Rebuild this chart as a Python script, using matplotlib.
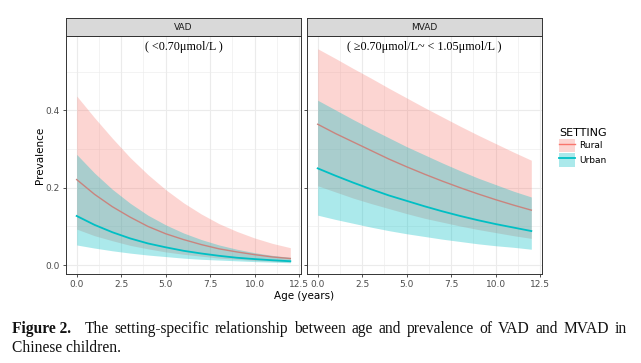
import numpy as np
import matplotlib.pyplot as plt
from matplotlib.patches import Patch
from matplotlib.lines import Line2D

OUTPUT_PATH = "out.png"
W, H = 641, 363

# ages and fitted prevalence
age = [0, 1, 2, 3, 4, 5, 6, 7, 8, 9, 10, 11, 12]

# VAD panel
vad_rural = [0.221, 0.183, 0.151, 0.124, 0.100, 0.081, 0.066, 0.053, 0.042, 0.034, 0.027, 0.021, 0.017]
vad_rural_hi = [0.437, 0.381, 0.328, 0.278, 0.234, 0.195, 0.161, 0.132, 0.107, 0.087, 0.070, 0.056, 0.045]
vad_rural_lo = [0.093, 0.076, 0.063, 0.051, 0.042, 0.034, 0.028, 0.023, 0.018, 0.015, 0.012, 0.010, 0.008]
vad_urban = [0.127, 0.104, 0.085, 0.069, 0.056, 0.046, 0.037, 0.030, 0.024, 0.019, 0.0155, 0.0125, 0.010]
vad_urban_hi = [0.286, 0.238, 0.196, 0.160, 0.129, 0.104, 0.083, 0.066, 0.052, 0.041, 0.032, 0.025, 0.020]
vad_urban_lo = [0.052, 0.044, 0.037, 0.031, 0.026, 0.022, 0.018, 0.015, 0.013, 0.011, 0.009, 0.0075, 0.006]

# MVAD panel
mvad_rural = [0.364, 0.340, 0.318, 0.296, 0.274, 0.254, 0.235, 0.217, 0.200, 0.184, 0.169, 0.155, 0.142]
mvad_rural_hi = [0.559, 0.534, 0.508, 0.483, 0.457, 0.432, 0.407, 0.383, 0.359, 0.336, 0.314, 0.292, 0.271]
mvad_rural_lo = [0.205, 0.189, 0.173, 0.159, 0.146, 0.133, 0.121, 0.111, 0.101, 0.092, 0.084, 0.076, 0.069]
mvad_urban = [0.250, 0.231, 0.213, 0.196, 0.180, 0.166, 0.152, 0.139, 0.127, 0.116, 0.106, 0.097, 0.088]
mvad_urban_hi = [0.426, 0.401, 0.376, 0.352, 0.329, 0.306, 0.285, 0.264, 0.244, 0.225, 0.208, 0.191, 0.176]
mvad_urban_lo = [0.129, 0.118, 0.108, 0.098, 0.089, 0.081, 0.074, 0.067, 0.061, 0.055, 0.050, 0.046, 0.041]

panels = ["VAD", "MVAD"]
notes = ["( <0.70\u03bcmol/L )", "( \u22650.70\u03bcmol/L~ < 1.05\u03bcmol/L )"]
settings = ["Rural", "Urban"]
x_ticks = [0.0, 2.5, 5.0, 7.5, 10.0, 12.5]
y_ticks = [0.0, 0.2, 0.4]

CAPTION_1 = "The setting-specific relationship between age and prevalence of VAD and MVAD in"
CAPTION_2 = "Chinese children."

RURAL = "#F8766D"
RURAL_LINE = "#C9847E"   # rural line seen through the urban ribbon
URBAN = "#00BFC4"
GRID = "#EBEBEB"
EDGE = "#333333"


def box(x0, y0, x1, y1):
    # pixel box (top-left origin) -> figure fraction rect
    return [x0 / W, 1 - y1 / H, (x1 - x0) / W, (y1 - y0) / H]


def justified(fig, words, x_start, x_end, y, **kw):
    # spread words so the line runs from x_start to x_end (pixels)
    r = fig.canvas.get_renderer()
    texts = [fig.text(0, 1 - y / H, w, **kw) for w in words]
    widths = [t.get_window_extent(r).width for t in texts]
    gap = (x_end - x_start - sum(widths)) / (len(words) - 1)
    x = x_start
    for t, w in zip(texts, widths):
        t.set_x(x / W)
        x += w + gap


def plot():
    fig = plt.figure(figsize=(W / 100, H / 100), dpi=100)
    data = [
        (vad_rural, vad_rural_lo, vad_rural_hi, vad_urban, vad_urban_lo, vad_urban_hi),
        (mvad_rural, mvad_rural_lo, mvad_rural_hi, mvad_urban, mvad_urban_lo, mvad_urban_hi),
    ]
    lefts = [66, 307]
    for i, (name, note, d) in enumerate(zip(panels, notes, data)):
        x0 = lefts[i]
        ax = fig.add_axes(box(x0, 36, x0 + 235, 274))
        r, rlo, rhi, u, ulo, uhi = d
        ax.fill_between(age, rlo, rhi, color=RURAL, alpha=0.3, lw=0, zorder=2)
        ax.fill_between(age, ulo, uhi, color=URBAN, alpha=0.33, lw=0, zorder=3)
        ax.plot(age, r, color=RURAL_LINE, lw=1.0, zorder=4)
        ax.plot(age, u, color=URBAN, lw=1.3, zorder=5)

        ax.set_xlim(-0.6, 12.6)
        ax.set_ylim(-0.023, 0.592)
        ax.set_xticks(x_ticks)
        ax.set_xticklabels([f"{t:.1f}" for t in x_ticks])
        ax.set_xticks([1.25, 3.75, 6.25, 8.75, 11.25], minor=True)
        ax.set_yticks(y_ticks)
        ax.set_yticks([0.1, 0.3, 0.5], minor=True)
        if i == 0:
            ax.set_yticklabels([f"{t:.1f}" for t in y_ticks])
        else:
            ax.set_yticklabels([])
            ax.tick_params(axis="y", length=0)
        ax.grid(True, which="major", color=GRID, lw=0.8, zorder=0)
        ax.grid(True, which="minor", color=GRID, lw=0.4, zorder=0)
        ax.set_axisbelow(True)
        ax.tick_params(which="major", length=2.5, width=0.6, color=EDGE,
                       labelsize=6.5, labelcolor="#4D4D4D", pad=2)
        ax.tick_params(which="minor", length=0)
        for s in ax.spines.values():
            s.set_color(EDGE)
            s.set_linewidth(0.7)

        ax.text(0.5, 0.955, note, transform=ax.transAxes, ha="center", va="center",
                family="Liberation Serif", fontsize=8.7)

        strip = fig.add_axes(box(x0, 18, x0 + 235, 36))
        strip.set_facecolor("#D9D9D9")
        strip.set_xticks([])
        strip.set_yticks([])
        for s in strip.spines.values():
            s.set_color(EDGE)
            s.set_linewidth(0.7)
        strip.text(0.5, 0.5, name, ha="center", va="center", fontsize=6.5, color="#1A1A1A")

    fig.text(40 / W, 1 - 155 / H, "Prevalence", rotation=90, ha="center", va="center", fontsize=7.5)
    fig.text(304 / W, 1 - 296 / H, "Age (years)", ha="center", va="center", fontsize=7.5)

    # legend
    handles = [
        (Patch(facecolor=RURAL, alpha=0.3, lw=0), Line2D([], [], color=RURAL, lw=1.0)),
        (Patch(facecolor=URBAN, alpha=0.33, lw=0), Line2D([], [], color=URBAN, lw=1.3)),
    ]
    leg = fig.legend(handles, settings, title="SETTING", loc="upper left",
                     bbox_to_anchor=(559 / W, 1 - 128 / H), frameon=False,
                     fontsize=6.5, title_fontsize=8, handlelength=1.8, handleheight=1.9,
                     handletextpad=0.4, labelspacing=0.1, borderaxespad=0, borderpad=0)
    leg._legend_box.align = "left"

    # caption, first line justified like the journal text
    cap = dict(family="Liberation Serif", fontsize=11.2, va="baseline", color="#111111")
    fig.text(12 / W, 1 - 333 / H, "Figure 2.", fontweight="bold", **cap)
    justified(fig, CAPTION_1.split(), 85, 627, 333, **cap)
    fig.text(12 / W, 1 - 352 / H, CAPTION_2, **cap)

    fig.savefig(OUTPUT_PATH, dpi=100)


plot()
